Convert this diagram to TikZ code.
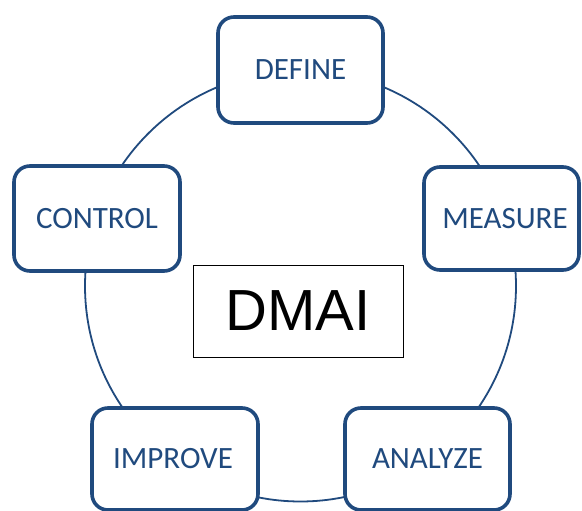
\documentclass[tikz,border=0pt]{standalone}
\usepackage{fontspec}
\setmainfont{Carlito}
\newfontfamily\dmaifont{Liberation Sans}
\definecolor{dmblue}{RGB}{32,74,126}
\begin{document}
\begin{tikzpicture}[x=1pt,y=-1pt,
  phase/.style={draw=dmblue, line width=3.6pt, rounded corners=16pt, fill=white,
    text=dmblue, font=\fontsize{31}{37}\selectfont, inner sep=0pt},
  ring/.style={draw=dmblue, line width=1.8pt},
  centrebox/.style={draw=black, line width=0.8pt, fill=white, inner sep=0pt,
    minimum width=210pt, minimum height=92pt, font=\dmaifont\fontsize{58}{64}\selectfont}
]
\useasboundingbox (0,0) rectangle (582,511);
\coordinate (c) at (300.5,286);
\draw[ring] (c) circle[radius=215.5pt];
% boxes
\node[phase, minimum width=165pt, minimum height=106pt] (define) at (300.5,70) {};
\node[phase, minimum width=166pt, minimum height=105pt] (control) at (97,218.5) {};
\node[phase, minimum width=155pt, minimum height=103pt] (measure) at (501.5,218.5) {};
\node[phase, minimum width=166pt, minimum height=102pt] (improve) at (175,459) {};
\node[phase, minimum width=165pt, minimum height=102pt] (analyze) at (427.5,459) {};
% labels
\node[text=dmblue, font=\fontsize{31}{37}\selectfont] at (define.center) {DEFINE};
\node[text=dmblue, font=\fontsize{31}{37}\selectfont] at (control.center) {CONTROL};
\node[text=dmblue, font=\fontsize{31}{37}\selectfont] at ([xshift=3.5pt]measure.center) {MEASURE};
\node[text=dmblue, font=\fontsize{31}{37}\selectfont] at ([xshift=-2pt]improve.center) {IMPROVE};
\node[text=dmblue, font=\fontsize{31}{37}\selectfont] at (analyze.center) {ANALYZE};
\node[centrebox] (dmai) at (298,311) {DMAI};
\end{tikzpicture}
\end{document}
